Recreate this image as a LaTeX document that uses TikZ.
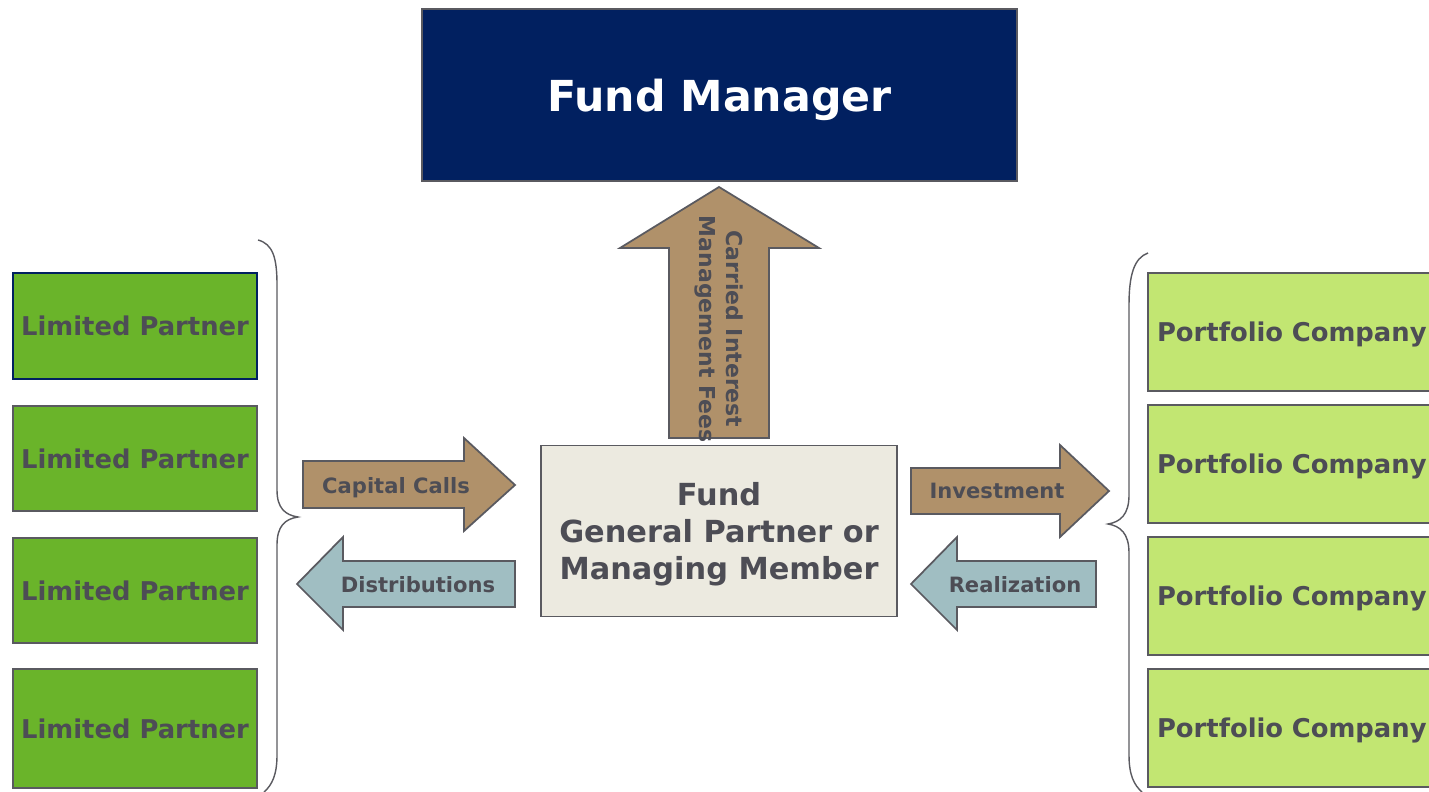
\documentclass[tikz,border=0pt]{standalone}
\usepackage{fontspec}
\setmainfont{DejaVu Sans}
\usepackage{tikz}
\usetikzlibrary{positioning}
\usepackage{xcolor}
\definecolor{navy}{RGB}{1,32,96}
\definecolor{tan}{RGB}{176,145,106}
\definecolor{slate}{RGB}{160,190,194}
\definecolor{paper}{RGB}{236,234,224}
\definecolor{lpgreen}{RGB}{106,180,42}
\definecolor{pcgreen}{RGB}{194,230,114}
\definecolor{ink}{RGB}{77,77,85}
\definecolor{edge}{RGB}{90,90,96}

\tikzset{
  box/.style={draw=edge, line width=1pt, inner sep=0pt, text=ink, text depth=0pt},
  lpbox/.style={box, fill=lpgreen, minimum width=4.88cm,
    font=\bfseries\fontsize{14.7}{17}\selectfont},
  pcbox/.style={box, fill=pcgreen, minimum height=2.36cm, text width=5.88cm,
    inner xsep=0.18cm, align=left, font=\bfseries\fontsize{14.7}{17}\selectfont},
  flow/.style={draw=edge, line width=1pt},
  flowtext/.style={text=ink, text depth=0pt, font=\bfseries\fontsize{12}{14}\selectfont},
  brace/.style={draw=edge, line width=0.8pt},
}

\begin{document}
\begin{tikzpicture}[x=0.02cm, y=-0.02cm]
  \useasboundingbox (0,0) rectangle (1429,791);

  % Manager and fund
  \node[box, fill=navy, text=white, minimum width=11.9cm, minimum height=3.44cm,
    font=\bfseries\fontsize{24.3}{29}\selectfont] (mgr) at (719.5,95) {Fund Manager};
  \node[box, fill=paper, minimum width=7.12cm, minimum height=3.42cm, align=center,
    font=\bfseries\fontsize{17.3}{21}\selectfont] (fund) at (719,531)
    {Fund\\General Partner or\\Managing Member};

  % Fees going up
  \draw[flow, fill=tan] (669,438) -- (669,248) -- (620,248) -- (719,187)
    -- (819,248) -- (769,248) -- (769,438) -- cycle;
  \node[flowtext, rotate=-90, align=center, font=\bfseries\fontsize{12.5}{15.3}\selectfont]
    (fees) at (721,329) {Carried Interest\\Management Fees};

  % Limited partners
  \node[lpbox, draw=navy, minimum height=2.12cm] (lp1) at (135,326) {Limited Partner};
  \node[lpbox, minimum height=2.1cm] (lp2) at (135,458.5) {Limited Partner};
  \node[lpbox, minimum height=2.1cm] (lp3) at (135,590.5) {Limited Partner};
  \node[lpbox, minimum height=2.38cm] (lp4) at (135,728.5) {Limited Partner};

  % Portfolio companies
  \foreach \i/\y in {1/332, 2/464, 3/596, 4/728}
    \node[pcbox] (pc\i) at (1304,\y) {Portfolio Company};

  % Braces
  \draw[brace] (258,240) .. controls (273,244) and (277,258) .. (277,285) -- (277,490)
    .. controls (277,508) and (285,515) .. (298,517)
    .. controls (285,519) and (277,526) .. (277,545) -- (277,755)
    .. controls (277,775) and (272,785) .. (264,792);
  \draw[brace] (1148,253) .. controls (1134,258) and (1129,275) .. (1129,305) -- (1129,495)
    .. controls (1129,515) and (1120,522) .. (1108,524)
    .. controls (1120,526) and (1129,533) .. (1129,553) -- (1129,755)
    .. controls (1129,775) and (1134,785) .. (1142,792);

  % Cash flows, left side
  \draw[flow, fill=tan] (303,461) -- (464,461) -- (464,438) -- (515,485)
    -- (464,531) -- (464,508) -- (303,508) -- cycle;
  \node[flowtext] (calls) at (396,485) {Capital Calls};
  \draw[flow, fill=slate] (515,561) -- (343,561) -- (343,537) -- (297,584)
    -- (343,630) -- (343,607) -- (515,607) -- cycle;
  \node[flowtext] (dist) at (418,584) {Distributions};

  % Cash flows, right side
  \draw[flow, fill=tan] (911,468) -- (1060,468) -- (1060,445) -- (1109,491)
    -- (1060,537) -- (1060,514) -- (911,514) -- cycle;
  \node[flowtext] (inv) at (997,491) {Investment};
  \draw[flow, fill=slate] (1096,561) -- (957,561) -- (957,537) -- (911,584)
    -- (957,630) -- (957,607) -- (1096,607) -- cycle;
  \node[flowtext] (real) at (1015,584) {Realization};
\end{tikzpicture}
\end{document}
